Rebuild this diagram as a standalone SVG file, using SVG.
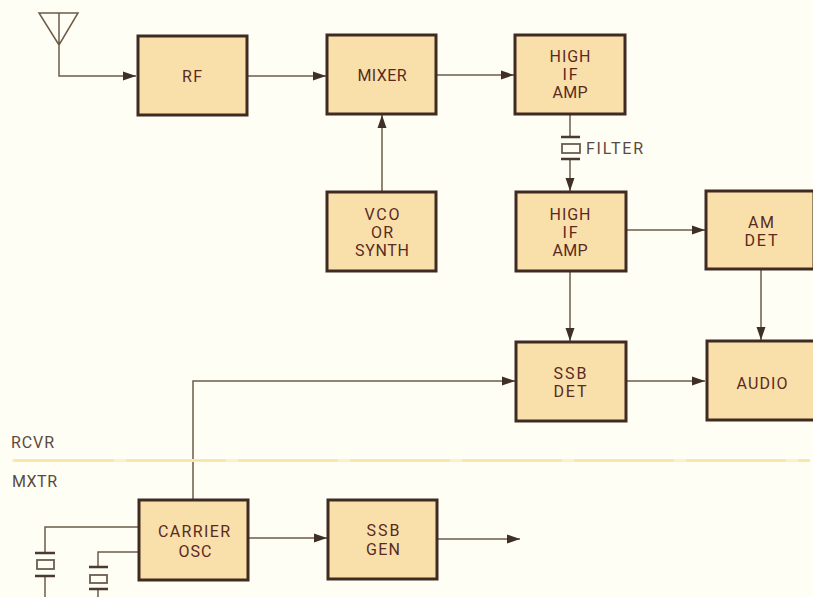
<svg xmlns="http://www.w3.org/2000/svg" width="813" height="597" viewBox="0 0 813 597">
<style>
.b{fill:#f9e0ab;stroke:#3f2b22;stroke-width:3}
.t{font-family:Roboto,"Liberation Sans",Arial,sans-serif;font-size:16px;fill:#5a2a22;text-anchor:middle}
.l{font-family:Roboto,"Liberation Sans",Arial,sans-serif;font-size:16px;fill:#5a4a40}
.c{fill:none;stroke:#6b5c48;stroke-width:1.5}
.k{fill:none;stroke:#4a3a30;stroke-width:2.500}
.f{fill:none;stroke:#6b5c50;stroke-width:1.8}
</style>
<defs><marker id="a" markerUnits="userSpaceOnUse" markerWidth="14" markerHeight="10" refX="13" refY="5" orient="auto"><path d="M0 .5L13 5L0 9.500Z" fill="#3f3026"/></marker></defs>
<rect width="813" height="597" fill="#fefef5"/>
<g id="connectors">
<path class="c" d="M59 47V76H136" marker-end="url(#a)"/>
<path class="c" d="M247 76H326" marker-end="url(#a)"/>
<path class="c" d="M436 75H514" marker-end="url(#a)"/>
<path class="c" d="M382 191V115" marker-end="url(#a)"/>
<path class="c" d="M570 114V138"/>
<path class="c" d="M570 158V191" marker-end="url(#a)"/>
<path class="c" d="M626 230H705" marker-end="url(#a)"/>
<path class="c" d="M570 271V341" marker-end="url(#a)"/>
<path class="c" d="M761 270V340" marker-end="url(#a)"/>
<path class="c" d="M193 500V381H515" marker-end="url(#a)"/>
<path class="c" d="M626 381H705" marker-end="url(#a)"/>
<path class="c" d="M248 538H327" marker-end="url(#a)"/>
<path class="c" d="M437 539H520" marker-end="url(#a)"/>
<path class="c" d="M139 527H45V552"/>
<path class="c" d="M139 552H98V567"/>
<path class="c" d="M45 576V597"/>
<path class="c" d="M98 590V597"/>
</g>
<g id="antenna"><path class="c" d="M39 13H78L59 45ZM59 13V47"/></g>
<g id="node-rf"><rect class="b" x="138" y="36" width="109" height="79"/><text class="t" x="192" y="82" textLength="20">RF</text></g>
<g id="node-mixer"><rect class="b" x="327" y="35" width="109" height="79"/><text class="t" x="382" y="81" textLength="49">MIXER</text></g>
<g id="node-if1"><rect class="b" x="515" y="35" width="110" height="79"/><text class="t" x="570" y="62" textLength="41">HIGH</text><text class="t" x="570" y="80" textLength="15">IF</text><text class="t" x="570" y="98" textLength="35">AMP</text></g>
<g id="node-filter"><path class="k" d="M561 137H580M561 159H580"/><rect class="f" x="562" y="144" width="18" height="9"/><text class="l" x="586" y="154" textLength="57">FILTER</text></g>
<g id="node-vco"><rect class="b" x="327" y="192" width="109" height="79"/><text class="t" x="382" y="220" textLength="35">VCO</text><text class="t" x="382" y="238" textLength="22">OR</text><text class="t" x="382" y="256" textLength="54">SYNTH</text></g>
<g id="node-if2"><rect class="b" x="516" y="192" width="110" height="79"/><text class="t" x="570" y="220" textLength="41">HIGH</text><text class="t" x="570" y="238" textLength="15">IF</text><text class="t" x="570" y="256" textLength="35">AMP</text></g>
<g id="node-am"><rect class="b" x="706" y="191" width="108" height="78"/><text class="t" x="761" y="228" textLength="26">AM</text><text class="t" x="761" y="246" textLength="33">DET</text></g>
<g id="node-ssbdet"><rect class="b" x="516" y="342" width="110" height="79"/><text class="t" x="570" y="379" textLength="33">SSB</text><text class="t" x="570" y="397" textLength="33">DET</text></g>
<g id="node-audio"><rect class="b" x="707" y="341" width="108" height="79"/><text class="t" x="762" y="389" textLength="51">AUDIO</text></g>
<g id="divider"><path d="M12 460.500H810" stroke="#fbf0c8" stroke-width="3" fill="none"/><path d="M14 460.500H810" stroke="#f7e2a8" stroke-width="2" fill="none" stroke-dasharray="100 12"/><text class="l" x="11" y="448" textLength="43">RCVR</text><text class="l" x="12" y="487" textLength="45">MXTR</text></g>
<g id="node-carrier"><rect class="b" x="139" y="500" width="109" height="80"/><text class="t" x="194" y="537" textLength="72">CARRIER</text><text class="t" x="195" y="557" textLength="33">OSC</text></g>
<g id="node-gen"><rect class="b" x="328" y="500" width="109" height="79"/><text class="t" x="383" y="536" textLength="33">SSB</text><text class="t" x="383" y="555" textLength="34">GEN</text></g>
<g id="crystal-1"><path class="k" d="M35 553H55M35 576H55"/><rect class="f" x="37" y="560" width="17" height="9"/></g>
<g id="crystal-2"><path class="k" d="M89 567H108M89 589H108"/><rect class="f" x="90" y="575" width="17" height="8"/></g>
</svg>
